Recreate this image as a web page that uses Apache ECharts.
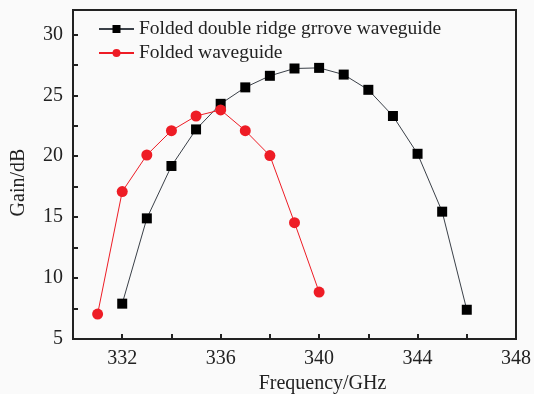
<!DOCTYPE html>
<html>
<head>
<meta charset="utf-8">
<script src="https://cdn.jsdelivr.net/npm/echarts@6/dist/echarts.min.js"></script>
<style>
  html, body { margin: 0; padding: 0; background: #fff; }
  #chart { width: 534px; height: 394px; }
</style>
</head>
<body>
<div id="chart"></div>
<script>
// 频率 (GHz)
var freqRidge = [332, 333, 334, 335, 336, 337, 338, 339, 340, 341, 342, 343, 344, 345, 346];
var gainRidge = [7.9, 14.9, 19.2, 22.2, 24.3, 25.65, 26.6, 27.2, 27.25, 26.7, 25.45, 23.3, 20.2, 15.45, 7.4];
var freqFolded = [331, 332, 333, 334, 335, 336, 337, 338, 339, 340];
var gainFolded = [7.05, 17.1, 20.1, 22.1, 23.3, 23.8, 22.1, 20.05, 14.55, 8.85];
var xTickLabels = [332, 336, 340, 344, 348];
var yTickLabels = [5, 10, 15, 20, 25, 30];
var seriesNames = ['Folded double ridge grrove waveguide', 'Folded waveguide'];

function pairs(xs, ys) {
    var out = [];
    for (var i = 0; i < xs.length; i++) {
        out.push([xs[i], ys[i]]);
    }
    return out;
}

var font = '"Liberation Serif", "DejaVu Serif", serif';
var myChart = echarts.init(document.getElementById('chart'));
myChart.setOption({
    backgroundColor: '#fafafa',
    animation: false,
    grid: {
        left: 73, right: 18, top: 10, bottom: 55,
        outerBoundsMode: 'none', containLabel: false,
        show: true, borderColor: '#222', borderWidth: 2
    },
    legend: {
        orient: 'vertical',
        left: 93, top: 14,
        itemWidth: 35, itemHeight: 10, itemGap: 4,
        textStyle: { fontFamily: font, fontSize: 19.5, color: '#222' },
        data: seriesNames
    },
    xAxis: {
        type: 'value', min: 330, max: 348, interval: 2,
        name: 'Frequency/GHz', nameLocation: 'middle', nameGap: 32,
        nameTextStyle: { fontFamily: font, fontSize: 20, color: '#222', padding: [0, 0, 0, 56] },
        axisLine: { lineStyle: { color: '#222', width: 2 } },
        axisTick: { inside: true, length: 5, lineStyle: { color: '#222', width: 2 } },
        axisLabel: {
            fontFamily: font, fontSize: 20, color: '#222', margin: 10,
            formatter: function (v) { return xTickLabels.indexOf(v) >= 0 ? String(v) : ''; }
        },
        splitLine: { show: false }
    },
    yAxis: {
        type: 'value', min: 5, max: 32, interval: 2.5,
        name: 'Gain/dB', nameLocation: 'middle', nameGap: 44,
        nameTextStyle: { fontFamily: font, fontSize: 20, color: '#222', padding: [0, 16, 0, 0] },
        axisLine: { lineStyle: { color: '#222', width: 2 } },
        axisTick: { inside: true, length: 5, lineStyle: { color: '#222', width: 2 } },
        axisLabel: {
            fontFamily: font, fontSize: 20, color: '#222', margin: 10,
            formatter: function (v) { return yTickLabels.indexOf(v) >= 0 ? String(v) : ''; }
        },
        splitLine: { show: false }
    },
    series: [{
        name: seriesNames[0],
        type: 'line',
        symbol: 'rect',
        symbolSize: 10,
        itemStyle: { color: '#000' },
        lineStyle: { color: '#3a4048', width: 1 },
        data: pairs(freqRidge, gainRidge)
    }, {
        name: seriesNames[1],
        type: 'line',
        symbol: 'circle',
        symbolSize: 11,
        itemStyle: { color: '#ee1c25' },
        lineStyle: { color: '#ee1c25', width: 1 },
        data: pairs(freqFolded, gainFolded)
    }]
});
</script>
</body>
</html>
